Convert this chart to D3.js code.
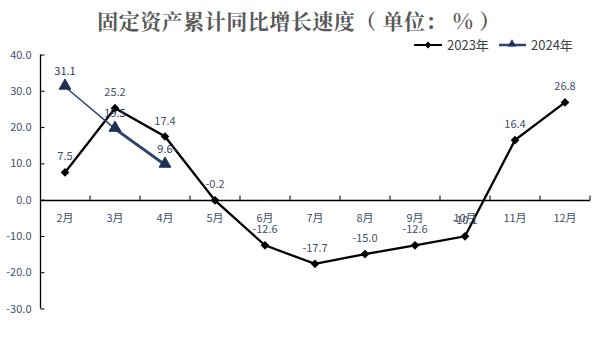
<!DOCTYPE html>
<html>
<head>
<meta charset="utf-8">
<script src="https://cdn.jsdelivr.net/npm/d3@7"></script>
<style>
  body { margin: 0; background: #fff; }
  text { font-family: "Noto Sans CJK SC", "Noto Sans", sans-serif; }
</style>
</head>
<body>
<div id="wrapper"></div>
<script>
// data
const months = ["2月", "3月", "4月", "5月", "6月", "7月", "8月", "9月", "10月", "11月", "12月"];
const values2023 = [7.5, 25.2, 17.4, -0.2, -12.6, -17.7, -15.0, -12.6, -10.1, 16.4, 26.8];
const values2024 = [31.1, 19.5, 9.6];
const yTicks = [-30, -20, -10, 0, 10, 20, 30, 40];
const titleText = "固定资产累计同比增长速度（ 单位： % ）";

const width = 606, height = 354;
const svg = d3.select("#wrapper").append("svg")
  .attr("width", width).attr("height", height);

const x = d3.scaleBand().domain(months).range([40, 590]);
const y = d3.scaleLinear().domain([-30, 40]).range([308.5, 54.5]);
const cx = d => x(d) + x.bandwidth() / 2;

// plain hyphen for negatives, like the original
const fmt = d3.formatLocale({ decimal: ".", thousands: ",", grouping: [3], currency: ["", ""], minus: "-" }).format(".1f");

const labelColor = "#44506a";

// title
svg.append("text")
  .attr("x", 299).attr("y", 29)
  .attr("text-anchor", "middle")
  .style("font-family", "'Noto Serif CJK SC', 'Noto Sans CJK SC', serif")
  .style("font-size", "21px").style("font-weight", "bold")
  .style("letter-spacing", "0.5px")
  .style("fill", "#595959")
  .text(titleText);

// y axis
const yAxis = svg.append("g")
  .attr("transform", "translate(40.5,0)")
  .call(d3.axisRight(y).tickValues(yTicks).tickSize(4).tickFormat(fmt));
yAxis.select(".domain").attr("d", `M0,${y(40)}V${y(-30)}`).attr("stroke", "#000").attr("stroke-width", 1.3);
yAxis.selectAll(".tick line").attr("stroke", "#000");
yAxis.selectAll(".tick text")
  .attr("x", -9).attr("text-anchor", "end")
  .style("font-size", "11px").style("fill", labelColor);

// x axis at zero
const xAxis = svg.append("g").attr("transform", `translate(0,${Math.round(y(0)) + 0.5})`);
xAxis.append("line").attr("x1", 40).attr("x2", 590).attr("stroke", "#000").attr("stroke-width", 1.3);
xAxis.selectAll("line.tk").data(months).enter().append("line")
  .attr("class", "tk")
  .attr("x1", d => x(d) + x.bandwidth()).attr("x2", d => x(d) + x.bandwidth())
  .attr("y1", -5).attr("y2", 0).attr("stroke", "#000");
xAxis.selectAll("text").data(months).enter().append("text")
  .attr("x", d => cx(d)).attr("y", 21)
  .attr("text-anchor", "middle")
  .style("font-size", "11px").style("fill", labelColor)
  .text(d => d);

// 2023 series
const line = d3.line().x(d => cx(d.m)).y(d => y(d.v));
const data2023 = months.map((m, i) => ({ m: m, v: values2023[i] }));
const data2024 = values2024.map((v, i) => ({ m: months[i], v: v }));

svg.append("path").datum(data2023)
  .attr("d", line).attr("fill", "none")
  .attr("stroke", "#000").attr("stroke-width", 2.3);

svg.selectAll("path.dia").data(data2023).enter().append("path")
  .attr("class", "dia")
  .attr("d", d3.symbol(d3.symbolDiamond2, 48))
  .attr("transform", d => `translate(${cx(d.m)},${y(d.v)})`)
  .attr("fill", "#000");

// 2024 series: segments, second thicker
const segWidths = [1.5, 3];
svg.selectAll("line.s24").data(data2024.slice(1)).enter().append("line")
  .attr("class", "s24")
  .attr("x1", (d, i) => cx(data2024[i].m)).attr("y1", (d, i) => y(data2024[i].v))
  .attr("x2", d => cx(d.m)).attr("y2", d => y(d.v))
  .attr("stroke", "#2c4470").attr("stroke-width", (d, i) => segWidths[i]);

svg.selectAll("path.tri").data(data2024).enter().append("path")
  .attr("class", "tri")
  .attr("d", d3.symbol(d3.symbolTriangle, 60))
  .attr("transform", d => `translate(${cx(d.m)},${y(d.v) - 1})`)
  .attr("fill", "#1f3058").attr("stroke", "#1f3058");

// data labels
svg.selectAll("text.l23").data(data2023).enter().append("text")
  .attr("class", "l23")
  .attr("x", d => cx(d.m)).attr("y", d => y(d.v) - 12)
  .attr("text-anchor", "middle")
  .style("font-size", "11px").style("fill", labelColor)
  .text(d => fmt(d.v));

svg.selectAll("text.l24").data(data2024).enter().append("text")
  .attr("class", "l24")
  .attr("x", d => cx(d.m)).attr("y", d => y(d.v) - 12)
  .attr("text-anchor", "middle")
  .style("font-size", "11px").style("fill", "#2a3a60")
  .text(d => fmt(d.v));

// legend
const legend = svg.append("g").attr("transform", "translate(0,45)");
legend.append("line").attr("x1", 414).attr("x2", 442).attr("stroke", "#000").attr("stroke-width", 2);
legend.append("path").attr("d", d3.symbol(d3.symbolDiamond2, 30))
  .attr("transform", "translate(428,0)").attr("fill", "#000");
legend.append("text").attr("x", 447).attr("y", 5)
  .style("font-size", "13px").style("fill", "#404040").text("2023年");
legend.append("line").attr("x1", 499).attr("x2", 526).attr("stroke", "#2c4470").attr("stroke-width", 2.5);
legend.append("path").attr("d", d3.symbol(d3.symbolTriangle, 30))
  .attr("transform", "translate(512,-1)").attr("fill", "#1f3058");
legend.append("text").attr("x", 531).attr("y", 5)
  .style("font-size", "13px").style("fill", "#404040").text("2024年");
</script>
</body>
</html>
